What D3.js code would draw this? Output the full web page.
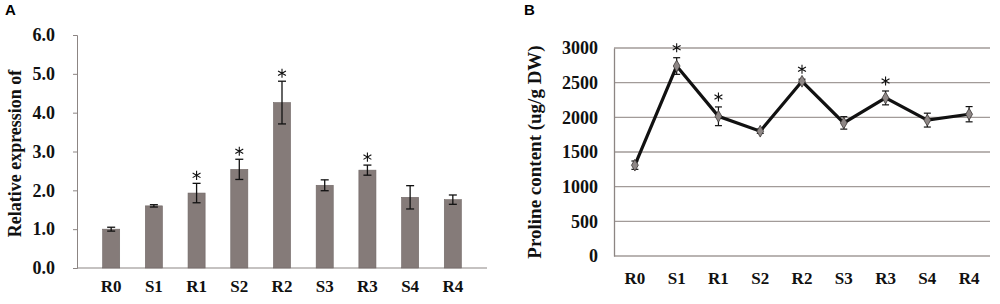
<!DOCTYPE html>
<html>
<head>
<meta charset="utf-8">
<script src="https://cdn.jsdelivr.net/npm/d3@7"></script>
<style>
  body { margin: 0; background: #fff; }
  svg { display: block; }
</style>
</head>
<body>
<div id="chart"></div>
<script>
'use strict'

// shared categories
const categories = ['R0', 'S1', 'R1', 'S2', 'R2', 'S3', 'R3', 'S4', 'R4']

// panel A - relative expression
const exprValues = [1.0, 1.6, 1.93, 2.54, 4.26, 2.13, 2.52, 1.82, 1.76]
const exprErrors = [0.05, 0.03, 0.25, 0.26, 0.55, 0.14, 0.13, 0.3, 0.12]
const exprStars  = [false, false, true, true, true, false, true, false, false]
const exprTicks  = [0, 1, 2, 3, 4, 5, 6]

// panel B - proline content
const prolineValues = [1310, 2740, 2015, 1800, 2520, 1920, 2280, 1960, 2045]
const prolineErrors = [60, 120, 135, 30, 30, 90, 100, 100, 110]
const prolineStars  = [false, true, true, false, true, false, true, false, false]
const prolineTicks  = [0, 500, 1000, 1500, 2000, 2500, 3000]

const W = 1000, H = 304
const serif = '"Liberation Serif", "Times New Roman", serif'
const star = d3.symbol(d3.symbolAsterisk, 58)

const svg = d3.select('#chart').append('svg')
    .attr('width', W).attr('height', H)
    .attr('viewBox', `0 0 ${W} ${H}`)

function drawStar(g, x, y) {
    g.append('path')
        .attr('d', star)
        .attr('transform', `translate(${x},${y})`)
        .attr('fill', 'none')
        .attr('stroke', '#111').attr('stroke-width', 1.1)
}

////////////////////////////////////
//////////// Panel A ///////////////
////////////////////////////////////

const xA = d3.scaleBand().domain(categories).range([77, 487]).padding(0.6)
const yA = d3.scaleLinear().domain([0, 6]).range([268, 35])

const gA = svg.append('g')

gA.append('text')
    .attr('x', 5).attr('y', 15)
    .text('A')
    .style('font-family', '"Liberation Sans", Arial, sans-serif')
    .style('font-weight', '700').style('font-size', '15px')

// y axis
const axA = gA.append('g')
    .attr('transform', 'translate(77,0)')
    .call(d3.axisLeft(yA).tickValues(exprTicks).tickFormat(d3.format('.1f')).tickSize(4).tickPadding(18))
axA.select('.domain').attr('stroke', '#8c8583')
axA.selectAll('.tick line').attr('stroke', '#8c8583')
axA.selectAll('.tick text')
    .style('font-family', serif).style('font-weight', '700').style('font-size', '18px')
    .attr('fill', '#111')

// x axis baseline
gA.append('line')
    .attr('x1', 77).attr('x2', 487)
    .attr('y1', yA(0)).attr('y2', yA(0))
    .attr('stroke', '#8c8583').attr('stroke-width', 1.2)

gA.selectAll('.xlabA').data(categories).enter().append('text')
    .attr('x', d => xA(d) + xA.bandwidth() / 2)
    .attr('y', 292)
    .attr('text-anchor', 'middle')
    .text(d => d)
    .style('font-family', serif).style('font-weight', '700').style('font-size', '17px')
    .attr('fill', '#111')

gA.append('text')
    .attr('transform', `translate(21,${(yA(0) + yA(6)) / 2 + 2}) rotate(-90)`)
    .attr('text-anchor', 'middle')
    .text('Relative expression of')
    .style('font-family', serif).style('font-weight', '700').style('font-size', '18px')
    .attr('fill', '#111')

// bars
gA.selectAll('.bar').data(exprValues).enter().append('rect')
    .attr('x', (d, i) => xA(categories[i]))
    .attr('y', d => yA(d))
    .attr('width', xA.bandwidth())
    .attr('height', d => yA(0) - yA(d))
    .attr('fill', '#857b79')
    .attr('stroke', '#6f6664').attr('stroke-width', 0.6)

// error bars
exprValues.forEach((v, i) => {
    const cx = xA(categories[i]) + xA.bandwidth() / 2
    const top = yA(v + exprErrors[i]), bot = yA(v - exprErrors[i])
    gA.append('line').attr('x1', cx).attr('x2', cx).attr('y1', top).attr('y2', bot)
        .attr('stroke', '#111').attr('stroke-width', 1.3)
    ;[top, bot].forEach(yy => {
        gA.append('line').attr('x1', cx - 4).attr('x2', cx + 4).attr('y1', yy).attr('y2', yy)
            .attr('stroke', '#111').attr('stroke-width', 1.3)
    })
    if (exprStars[i]) drawStar(gA, cx, top - 8)
})

////////////////////////////////////
//////////// Panel B ///////////////
////////////////////////////////////

const xB = d3.scaleBand().domain(categories).range([614, 990])
const yB = d3.scaleLinear().domain([0, 3000]).range([256, 48])

const gB = svg.append('g')

gB.append('text')
    .attr('x', 524).attr('y', 15)
    .text('B')
    .style('font-family', '"Liberation Sans", Arial, sans-serif')
    .style('font-weight', '700').style('font-size', '15px')

// gridlines
gB.selectAll('.grid').data(prolineTicks).enter().append('line')
    .attr('x1', 614).attr('x2', 990)
    .attr('y1', d => yB(d)).attr('y2', d => yB(d))
    .attr('stroke', '#a29b99').attr('stroke-width', 1.3)

const axB = gB.append('g')
    .attr('transform', 'translate(614,0)')
    .call(d3.axisLeft(yB).tickValues(prolineTicks).tickFormat(d3.format('d')).tickSize(0).tickPadding(16))
axB.select('.domain').attr('stroke', '#8c8583').attr('stroke-width', 1.3)
axB.selectAll('.tick text')
    .style('font-family', serif).style('font-weight', '700').style('font-size', '18px')
    .attr('fill', '#111')

gB.selectAll('.xlabB').data(categories).enter().append('text')
    .attr('x', d => xB(d) + xB.bandwidth() / 2)
    .attr('y', 284)
    .attr('text-anchor', 'middle')
    .text(d => d)
    .style('font-family', serif).style('font-weight', '700').style('font-size', '17px')
    .attr('fill', '#111')

gB.append('text')
    .attr('transform', `translate(541,${(yB(0) + yB(3000)) / 2}) rotate(-90)`)
    .attr('text-anchor', 'middle')
    .text('Proline content (ug/g DW)')
    .style('font-family', serif).style('font-weight', '700').style('font-size', '19px')
    .attr('fill', '#111')

const cxB = i => xB(categories[i]) + xB.bandwidth() / 2

// error bars
prolineValues.forEach((v, i) => {
    const cx = cxB(i)
    const top = yB(v + prolineErrors[i]), bot = yB(v - prolineErrors[i])
    gB.append('line').attr('x1', cx).attr('x2', cx).attr('y1', top).attr('y2', bot)
        .attr('stroke', '#111').attr('stroke-width', 1.2)
    ;[top, bot].forEach(yy => {
        gB.append('line').attr('x1', cx - 3.5).attr('x2', cx + 3.5).attr('y1', yy).attr('y2', yy)
            .attr('stroke', '#111').attr('stroke-width', 1.2)
    })
})

// line
const line = d3.line().x((d, i) => cxB(i)).y(d => yB(d))
gB.append('path')
    .datum(prolineValues)
    .attr('d', line)
    .attr('fill', 'none')
    .attr('stroke', '#111').attr('stroke-width', 3.2)
    .attr('stroke-linejoin', 'miter')

// diamond markers
gB.selectAll('.marker').data(prolineValues).enter().append('path')
    .attr('d', d3.symbol(d3.symbolDiamond, 40))
    .attr('transform', (d, i) => `translate(${cxB(i)},${yB(d)})`)
    .attr('fill', '#8e8786')
    .attr('stroke', '#3a3534').attr('stroke-width', 0.8)

// asterisks
prolineValues.forEach((v, i) => {
    if (!prolineStars[i]) return
    drawStar(gB, cxB(i), yB(v + prolineErrors[i]) - 10)
})
</script>
</body>
</html>
